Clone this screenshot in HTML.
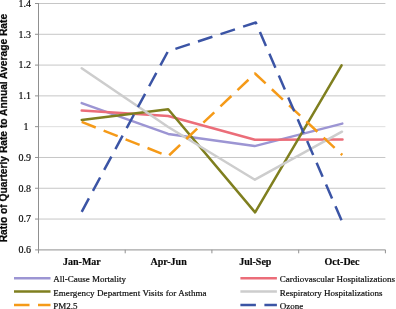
<!DOCTYPE html>
<html><head><meta charset="utf-8"><title>chart</title>
<style>
html,body{margin:0;padding:0;background:#fff;}
body{width:396px;height:309px;overflow:hidden;font-family:"Liberation Serif",serif;}
svg{display:block;will-change:transform;}
text{font-family:"Liberation Serif",serif;fill:#0a0a0a;stroke:#0a0a0a;stroke-width:0.18px;}
.sans{font-family:"Liberation Sans",sans-serif;}
</style></head><body>
<svg width="396" height="309" viewBox="0 0 396 309">
<rect width="396" height="309" fill="#fff"/>

<line x1="35.1" y1="249.85" x2="385.4" y2="249.85" stroke="#a6a6a6" stroke-width="1.3"/>
<text x="31.0" y="253.15" font-size="10" text-anchor="end">0.6</text>
<line x1="38.5" y1="219.06" x2="385.4" y2="219.06" stroke="#c6c6c6" stroke-width="1"/>
<line x1="35.0" y1="219.06" x2="38.5" y2="219.06" stroke="#909090" stroke-width="1"/>
<text x="31.0" y="222.36" font-size="10" text-anchor="end">0.7</text>
<line x1="38.5" y1="188.26" x2="385.4" y2="188.26" stroke="#c6c6c6" stroke-width="1"/>
<line x1="35.0" y1="188.26" x2="38.5" y2="188.26" stroke="#909090" stroke-width="1"/>
<text x="31.0" y="191.56" font-size="10" text-anchor="end">0.8</text>
<line x1="38.5" y1="157.47" x2="385.4" y2="157.47" stroke="#c6c6c6" stroke-width="1"/>
<line x1="35.0" y1="157.47" x2="38.5" y2="157.47" stroke="#909090" stroke-width="1"/>
<text x="31.0" y="160.77" font-size="10" text-anchor="end">0.9</text>
<line x1="38.5" y1="126.67" x2="385.4" y2="126.67" stroke="#dedede" stroke-width="1"/>
<line x1="35.0" y1="126.67" x2="38.5" y2="126.67" stroke="#909090" stroke-width="1"/>
<text x="25.9" y="129.97" font-size="10" text-anchor="middle">1</text>
<line x1="38.5" y1="95.88" x2="385.4" y2="95.88" stroke="#c6c6c6" stroke-width="1"/>
<line x1="35.0" y1="95.88" x2="38.5" y2="95.88" stroke="#909090" stroke-width="1"/>
<text x="31.0" y="99.18" font-size="10" text-anchor="end">1.1</text>
<line x1="38.5" y1="65.09" x2="385.4" y2="65.09" stroke="#c6c6c6" stroke-width="1"/>
<line x1="35.0" y1="65.09" x2="38.5" y2="65.09" stroke="#909090" stroke-width="1"/>
<text x="31.0" y="68.39" font-size="10" text-anchor="end">1.2</text>
<line x1="38.5" y1="34.29" x2="385.4" y2="34.29" stroke="#c6c6c6" stroke-width="1"/>
<line x1="35.0" y1="34.29" x2="38.5" y2="34.29" stroke="#909090" stroke-width="1"/>
<text x="31.0" y="37.59" font-size="10" text-anchor="end">1.3</text>
<line x1="38.5" y1="3.50" x2="385.4" y2="3.50" stroke="#c6c6c6" stroke-width="1"/>
<line x1="35.0" y1="3.50" x2="38.5" y2="3.50" stroke="#909090" stroke-width="1"/>
<text x="31.0" y="6.80" font-size="10" text-anchor="end">1.4</text>
<line x1="38.5" y1="3.0" x2="38.5" y2="253.3" stroke="#909090" stroke-width="1"/>
<line x1="125.2" y1="249.8" x2="125.2" y2="253.3" stroke="#909090" stroke-width="1"/>
<line x1="211.9" y1="249.8" x2="211.9" y2="253.3" stroke="#909090" stroke-width="1"/>
<line x1="298.7" y1="249.8" x2="298.7" y2="253.3" stroke="#909090" stroke-width="1"/>
<line x1="385.4" y1="249.8" x2="385.4" y2="253.3" stroke="#909090" stroke-width="1"/>
<polyline points="81.7,103.1 168.2,133.9 254.6,146.1 342.3,123.6" fill="none" stroke="#9c95d3" stroke-width="2.5" stroke-linejoin="round" stroke-linecap="round"/>
<polyline points="81.7,110.6 168.2,116.0 254.9,139.7 342.5,139.6" fill="none" stroke="#eb6d79" stroke-width="2.5" stroke-linejoin="round" stroke-linecap="round"/>
<polyline points="81.7,119.9 168.2,109.3 255.1,212.4 341.6,65.3" fill="none" stroke="#7f7f1f" stroke-width="2.5" stroke-linejoin="round" stroke-linecap="round"/>
<polyline points="81.7,68.2 168.2,127.0 254.9,179.7 342.0,131.7" fill="none" stroke="#cdcdcd" stroke-width="2.5" stroke-linejoin="round" stroke-linecap="round"/>
<polyline points="81.7,121.9 168.2,156.2 255.0,73.5 342.3,155.0" fill="none" stroke="#f59a18" stroke-width="2.5" stroke-linejoin="round" stroke-dasharray="15.1 8.5"/>
<polyline points="81.7,211.8 167.9,51.4 255.8,22.5 342.0,221.4" fill="none" stroke="#3b54a5" stroke-width="2.5" stroke-linejoin="round" stroke-dasharray="15.2 8.55"/>
<text x="81.9" y="265" font-size="10" font-weight="bold" text-anchor="middle">Jan-Mar</text>
<text x="168.6" y="265" font-size="10" font-weight="bold" text-anchor="middle">Apr-Jun</text>
<text x="255.3" y="265" font-size="10" font-weight="bold" text-anchor="middle">Jul-Sep</text>
<text x="342.0" y="265" font-size="10" font-weight="bold" text-anchor="middle">Oct-Dec</text>
<text class="sans" transform="translate(7.3,242.3) rotate(-90)" font-size="10.3" font-weight="bold" style="stroke-width:0.25px" textLength="228.4" lengthAdjust="spacingAndGlyphs">Ratio of Quarterly Rate to Annual Average Rate</text>
<line x1="14.0" y1="278.3" x2="50.5" y2="278.3" stroke="#9c95d3" stroke-width="2.5"/>
<text x="53.2" y="282.4" font-size="9">All-Cause Mortality</text>
<line x1="14.0" y1="291.6" x2="50.5" y2="291.6" stroke="#7f7f1f" stroke-width="2.5"/>
<text x="53.2" y="295.7" font-size="9" textLength="153.4" lengthAdjust="spacing">Emergency Department Visits for Asthma</text>
<line x1="14.0" y1="305.1" x2="50.5" y2="305.1" stroke="#f59a18" stroke-width="2.5" stroke-dasharray="15.5 8.5"/>
<text x="53.2" y="309.2" font-size="9">PM2.5</text>
<line x1="240.4" y1="278.3" x2="276.9" y2="278.3" stroke="#eb6d79" stroke-width="2.5"/>
<text x="279.8" y="282.4" font-size="9">Cardiovascular Hospitalizations</text>
<line x1="240.4" y1="291.6" x2="276.9" y2="291.6" stroke="#cdcdcd" stroke-width="2.5"/>
<text x="279.8" y="295.7" font-size="9">Respiratory Hospitalizations</text>
<line x1="240.4" y1="305.1" x2="276.9" y2="305.1" stroke="#3b54a5" stroke-width="2.5" stroke-dasharray="15.5 8.5"/>
<text x="279.8" y="309.2" font-size="9">Ozone</text>
</svg></body></html>
